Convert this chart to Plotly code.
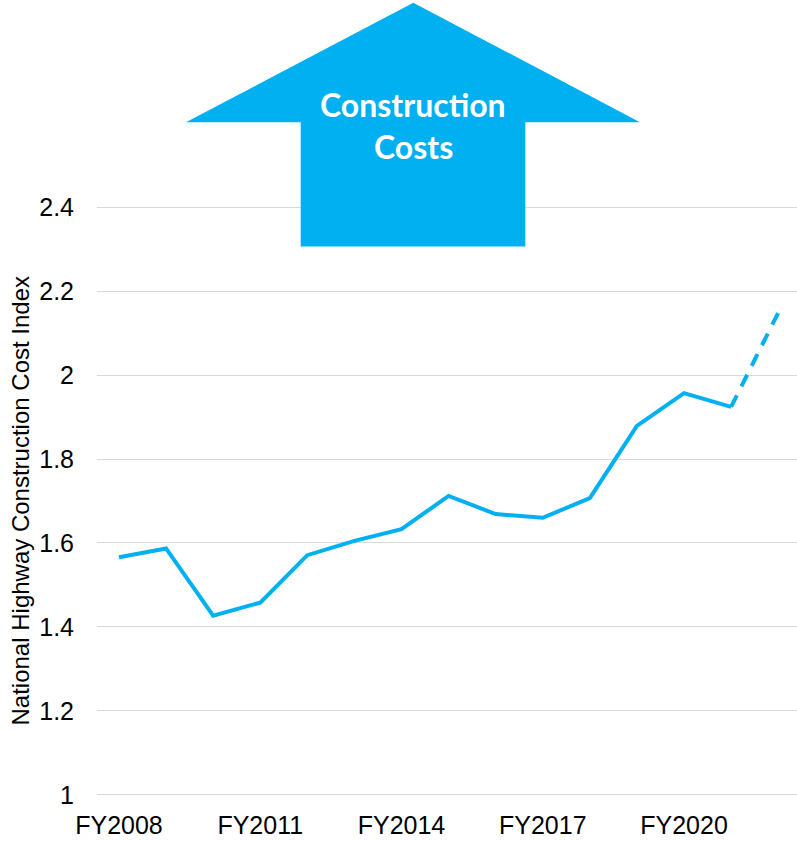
import plotly.graph_objects as go

# National Highway Construction Cost Index by fiscal year
years = ['FY2008', 'FY2009', 'FY2010', 'FY2011', 'FY2012', 'FY2013', 'FY2014',
         'FY2015', 'FY2016', 'FY2017', 'FY2018', 'FY2019', 'FY2020', 'FY2021',
         'FY2022']
actual = [1.566, 1.587, 1.427, 1.458, 1.571, 1.605, 1.633, 1.712, 1.669,
          1.660, 1.707, 1.879, 1.957, 1.924]
projected_years = ['FY2021', 'FY2022']
projected = [1.924, 2.148]
tick_years = ['FY2008', 'FY2011', 'FY2014', 'FY2017', 'FY2020']
y_ticks = [1, 1.2, 1.4, 1.6, 1.8, 2, 2.2, 2.4]
y_tick_text = ['1', '1.2', '1.4', '1.6', '1.8', '2', '2.2', '2.4']

blue = '#00B0F0'

fig = go.Figure()
fig.add_trace(go.Scatter(x=years[:len(actual)], y=actual, mode='lines',
                         line=dict(color=blue, width=4), showlegend=False))
fig.add_trace(go.Scatter(x=projected_years, y=projected, mode='lines',
                         line=dict(color=blue, width=4, dash='13px,10px'),
                         showlegend=False))

# big up arrow drawn in paper coordinates above the plot
fig.add_shape(type='path', xref='paper', yref='paper', layer='above',
              path='M 0.4519 1.3418 L 0.7757 1.1398 L 0.6119 1.1398 '
                   'L 0.6119 0.9298 L 0.2910 0.9298 L 0.2910 1.1398 '
                   'L 0.1271 1.1398 Z',
              fillcolor=blue, line=dict(width=0))
fig.add_annotation(x=0.4519, y=1.1705, xref='paper', yref='paper',
                   xanchor='center', yanchor='middle',
                   text='Construction', showarrow=False,
                   font=dict(family='Lato', size=32, color='white', weight='bold'))
fig.add_annotation(x=0.4519, y=1.099, xref='paper', yref='paper',
                   xanchor='center', yanchor='middle',
                   text='Costs', showarrow=False,
                   font=dict(family='Lato', size=32, color='white', weight='bold'))

fig.add_annotation(x=-0.1107, y=0.5, xref='paper', yref='paper',
                   xanchor='center', yanchor='middle',
                   text='National Highway Construction Cost Index',
                   textangle=-90, showarrow=False,
                   font=dict(family='Liberation Sans', size=24, color='#000000'))

fig.update_layout(
    width=797, height=841,
    margin=dict(l=97, r=0, t=205, b=44),
    plot_bgcolor='white', paper_bgcolor='white',
    font=dict(family='Liberation Sans', color='#000000'),
)
fig.update_xaxes(type='category', categoryorder='array', categoryarray=years,
                 range=[-0.467, 14.40], tickvals=tick_years, ticktext=tick_years,
                 showgrid=False, showline=False, zeroline=False, ticks='',
                 tickfont=dict(size=25), ticklabelstandoff=11)
fig.update_yaxes(range=[0.995, 2.405], tickvals=y_ticks, ticktext=y_tick_text,
                 showgrid=True, gridcolor='#D9D9D9', gridwidth=1,
                 showline=False, zeroline=False, ticks='',
                 tickfont=dict(size=25), ticklabelstandoff=22)

fig.write_html('out.html', config={'displayModeBar': False},
               post_script="document.body.style.margin='0';"
                           "document.body.style.overflow='hidden';")
